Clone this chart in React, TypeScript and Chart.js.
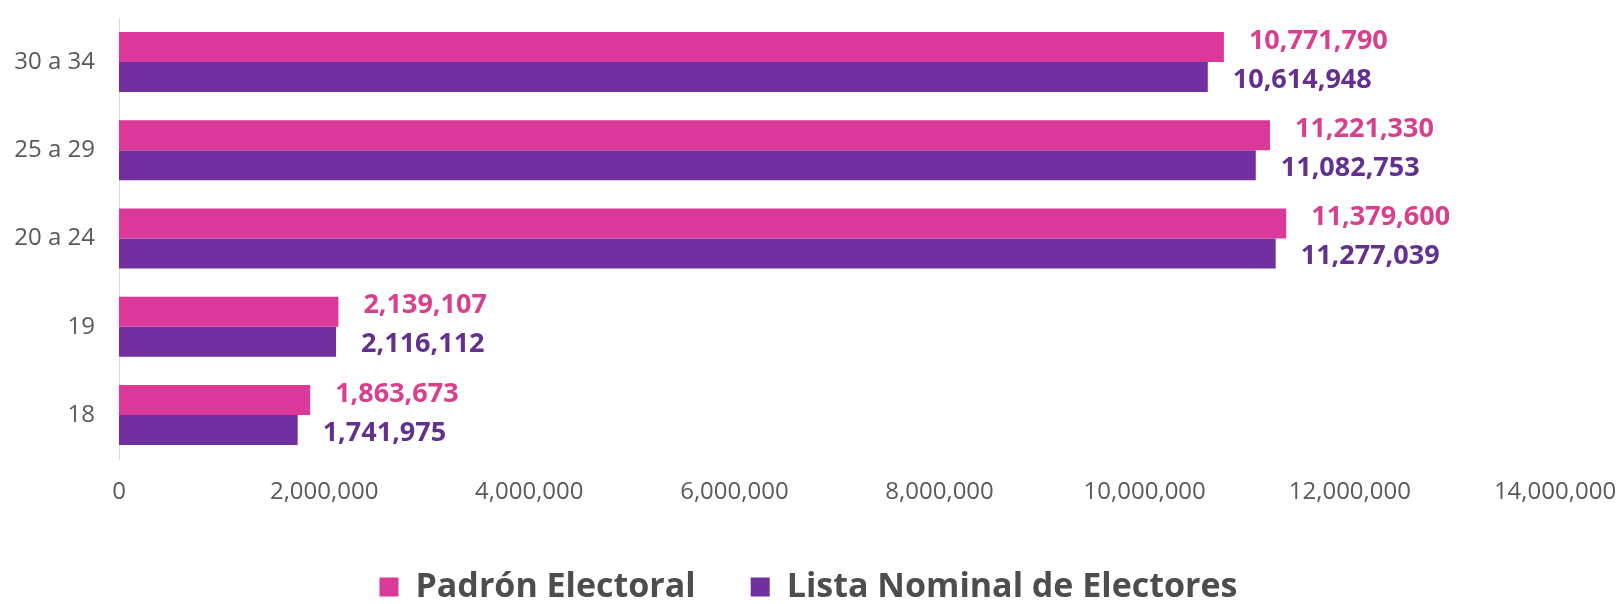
import { useRef, useEffect } from "react";
import { Chart, registerables } from "chart.js";

Chart.register(...registerables);

const categories = ["30 a 34", "25 a 29", "20 a 24", "19", "18"];
const padronValues = [10771790, 11221330, 11379600, 2139107, 1863673];
const listaValues = [10614948, 11082753, 11277039, 2116112, 1741975];
const xTicks = [0, 2000000, 4000000, 6000000, 8000000, 10000000, 12000000, 14000000];

const PINK = "#da3999";
const PURPLE = "#7030a0";
const PINK_TEXT = "#d8408f";
const PURPLE_TEXT = "#64308f";
const FONT = "'Open Sans', 'DejaVu Sans', sans-serif";

// thousands separated with commas, independent of locale
const fmt = (v: number) => String(Math.round(v)).replace(/\B(?=(\d{3})+(?!\d))/g, ",");

// draws the value next to the end of each bar
const barLabels = {
  id: "barLabels",
  afterDatasetsDraw(chart: any) {
    const { ctx } = chart;
    ctx.save();
    ctx.font = `bold 27px ${FONT}`;
    ctx.textAlign = "left";
    ctx.textBaseline = "middle";
    chart.data.datasets.forEach((ds: any, di: number) => {
      const meta = chart.getDatasetMeta(di);
      ctx.fillStyle = di === 0 ? PINK_TEXT : PURPLE_TEXT;
      meta.data.forEach((bar: any, i: number) => {
        const dy = di === 0 ? -6 : 3;
        ctx.fillText(fmt(ds.data[i]), bar.x + 25, bar.y + dy);
      });
    });
    ctx.restore();
  },
};

const App = () => {
  const chartRef = useRef<HTMLCanvasElement>(null);
  const chartInstanceRef = useRef<Chart | null>(null);

  useEffect(() => {
    if (!chartRef.current) return;
    if (chartInstanceRef.current) {
      chartInstanceRef.current.destroy();
    }
    chartInstanceRef.current = new Chart(chartRef.current, {
      type: "bar",
      data: {
        labels: categories,
        datasets: [
          {
            label: "Padrón Electoral",
            data: padronValues,
            backgroundColor: PINK,
            borderWidth: 0,
            categoryPercentage: 0.68,
            barPercentage: 1,
          },
          {
            label: "Lista Nominal de Electores",
            data: listaValues,
            backgroundColor: PURPLE,
            borderWidth: 0,
            categoryPercentage: 0.68,
            barPercentage: 1,
          },
        ],
      },
      options: {
        indexAxis: "y",
        animation: false,
        responsive: true,
        maintainAspectRatio: false,
        layout: { padding: { top: 18, right: 0, left: 0, bottom: 0 } },
        scales: {
          x: {
            min: 0,
            max: 14000000,
            afterBuildTicks: (scale: any) => {
              scale.ticks = xTicks.map((v) => ({ value: v }));
            },
            afterFit: (scale: any) => {
              scale.height = 56;
              scale.paddingLeft = 0;
              scale.paddingRight = 62;
            },
            grid: { display: false, drawTicks: false },
            border: { display: false },
            ticks: {
              padding: 19,
              color: "#595959",
              font: { family: FONT, size: 24 },
              maxRotation: 0,
              callback: (v: any) => fmt(Number(v)),
            },
          },
          y: {
            afterFit: (scale: any) => {
              scale.width = 119;
              scale.paddingTop = 0;
              scale.paddingBottom = 0;
            },
            grid: { display: false, drawTicks: false },
            border: { display: true, color: "#d9d9d9", width: 1 },
            ticks: {
              padding: 24,
              color: "#595959",
              font: { family: FONT, size: 24 },
            },
          },
        },
        plugins: {
          legend: {
            position: "bottom",
            labels: {
              boxWidth: 19,
              boxHeight: 19,
              padding: 55,
              color: "#4d4d4d",
              font: { family: FONT, size: 34, weight: "bold" },
            },
          },
          tooltip: { enabled: false },
        },
      },
      plugins: [barLabels],
    });

    return () => {
      chartInstanceRef.current?.destroy();
    };
  }, []);

  return (
    <div
      style={{
        position: "fixed",
        left: 0,
        top: 0,
        width: 1617,
        height: 604,
        overflow: "hidden",
        background: "#fff",
      }}
    >
      <div style={{ position: "relative", width: 1617, height: 614 }}>
        <canvas ref={chartRef} />
      </div>
    </div>
  );
};

export default App;
